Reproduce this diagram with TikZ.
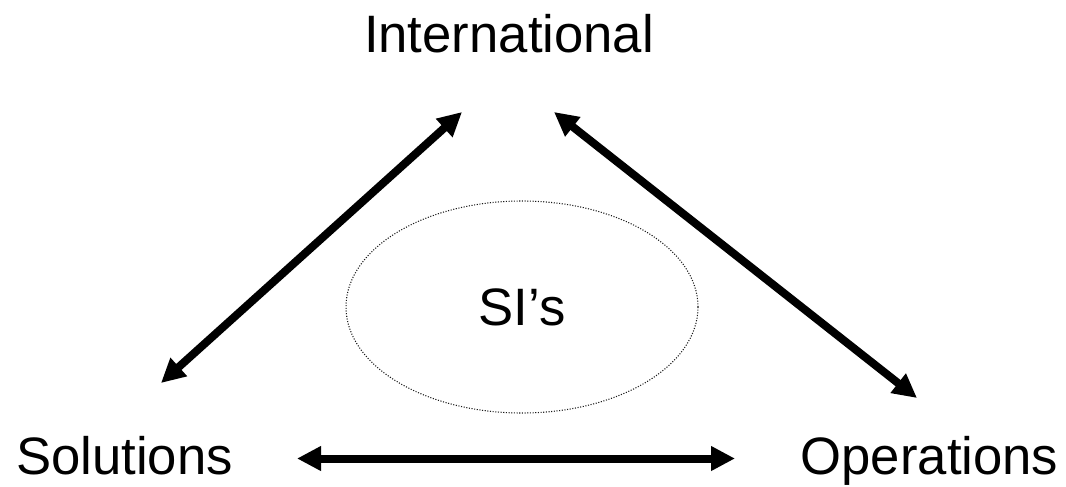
\documentclass[tikz,border=0pt]{standalone}
\usepackage{fontspec}
\setmainfont{Liberation Sans}
\usetikzlibrary{arrows.meta}
\usetikzlibrary{shapes.geometric}
\tikzset{
    label nodes/.style={
        inner sep=0pt,
        anchor=base,
        font=\fontsize{39.5}{42}\selectfont
    },
    link/.style={
        line width=6pt,
        {Triangle[length=18pt,width=17.5pt]}-{Triangle[length=18pt,width=17.5pt]}
    },
    group ring/.style={
        ellipse,
        draw=black!90,
        line width=0.8pt,
        dash pattern=on 0.8pt off 1.2pt,
        inner sep=0pt,
        minimum width=264pt,
        minimum height=159pt,
        font=\fontsize{39.5}{42}\selectfont
    }
}

\begin{document}
\begin{tikzpicture}[x=0.75pt,y=-0.75pt]
            \useasboundingbox (0,0) rectangle (1066,486);
            \node[label nodes] (intl) at (509,52) {International};
            \node[label nodes] (sol) at (124.5,474) {Solutions};
            \node[label nodes] (ops) at (929.5,474) {Operations};
            \node[group ring] (si) at (522,307) {SI’s};
            % arrow ends
            \coordinate (intl-l) at (462,112);
            \coordinate (intl-r) at (554,112);
            \coordinate (sol-t) at (161,383);
            \coordinate (sol-r) at (297,458.5);
            \coordinate (ops-t) at (917,398);
            \coordinate (ops-l) at (735,458.5);
            \foreach \s/\t in {sol-t/intl-l,intl-r/ops-t,sol-r/ops-l}
              \draw[link] (\s) -- (\t);
\end{tikzpicture}
\end{document}
